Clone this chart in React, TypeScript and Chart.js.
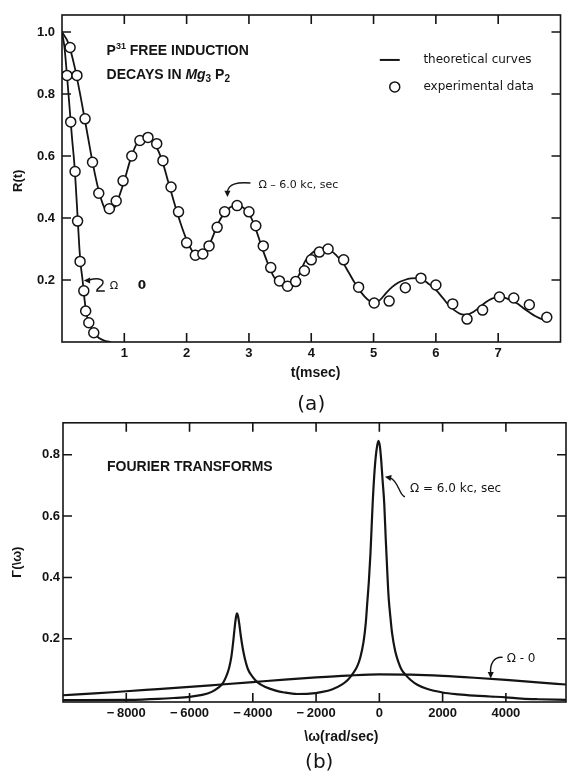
import React, { useEffect, useRef } from "react";
import { Chart, registerables } from "chart.js";
Chart.register(...registerables);

// ---------- data: (a) free induction decays ----------
const FID6_T = [0, 0.1, 0.2, 0.3, 0.4, 0.5, 0.6, 0.7, 0.78, 0.88, 1.0, 1.1, 1.2, 1.3, 1.4, 1.5, 1.6, 1.7, 1.8, 1.9, 2.0, 2.1, 2.2, 2.3, 2.4, 2.5, 2.6, 2.7, 2.8, 2.9, 3.0, 3.1, 3.2, 3.3, 3.4, 3.5, 3.6, 3.7, 3.8, 3.9, 4.0, 4.1, 4.2, 4.3, 4.4, 4.5, 4.6, 4.7, 4.8, 4.9, 5.0, 5.1, 5.2, 5.3, 5.4, 5.5, 5.6, 5.7, 5.8, 5.9, 6.0, 6.1, 6.2, 6.3, 6.4, 6.5, 6.6, 6.7, 6.8, 6.9, 7.0, 7.1, 7.2, 7.3, 7.4, 7.5, 7.6, 7.7, 7.8];
const FID6_R = [1.0, 0.965, 0.89, 0.79, 0.68, 0.57, 0.48, 0.425, 0.415, 0.45, 0.52, 0.59, 0.64, 0.66, 0.66, 0.635, 0.59, 0.52, 0.45, 0.385, 0.33, 0.29, 0.275, 0.29, 0.33, 0.38, 0.415, 0.435, 0.44, 0.435, 0.415, 0.37, 0.31, 0.255, 0.21, 0.185, 0.177, 0.188, 0.215, 0.26, 0.285, 0.297, 0.302, 0.297, 0.28, 0.258, 0.225, 0.19, 0.16, 0.138, 0.127, 0.135, 0.158, 0.178, 0.192, 0.2, 0.205, 0.206, 0.2, 0.185, 0.168, 0.145, 0.12, 0.102, 0.09, 0.088, 0.097, 0.112, 0.128, 0.14, 0.145, 0.143, 0.135, 0.125, 0.11, 0.096, 0.083, 0.074, 0.07];
const FID0_T = [0, 0.04, 0.08, 0.12, 0.16, 0.2, 0.24, 0.28, 0.3, 0.33, 0.36, 0.39, 0.43, 0.5, 0.6, 0.7, 0.78];
const FID0_R = [1.0, 0.95, 0.86, 0.76, 0.66, 0.57, 0.44, 0.3, 0.25, 0.2, 0.14, 0.095, 0.062, 0.032, 0.012, 0.003, 0.0];
const EXP6_T = [0.13, 0.24, 0.37, 0.49, 0.59, 0.76, 0.87, 0.98, 1.12, 1.25, 1.38, 1.52, 1.62, 1.75, 1.87, 2.0, 2.14, 2.26, 2.36, 2.49, 2.61, 2.81, 3.0, 3.11, 3.23, 3.35, 3.49, 3.62, 3.75, 3.89, 4.0, 4.13, 4.27, 4.52, 4.76, 5.01, 5.25, 5.51, 5.76, 6.0, 6.27, 6.5, 6.75, 7.02, 7.25, 7.5, 7.78];
const EXP6_R = [0.95, 0.86, 0.72, 0.58, 0.48, 0.43, 0.455, 0.52, 0.6, 0.65, 0.66, 0.64, 0.585, 0.5, 0.42, 0.32, 0.28, 0.284, 0.31, 0.37, 0.42, 0.44, 0.42, 0.375, 0.31, 0.24, 0.197, 0.18, 0.195, 0.23, 0.265, 0.29, 0.3, 0.265, 0.177, 0.126, 0.132, 0.175, 0.206, 0.184, 0.123, 0.074, 0.103, 0.145, 0.142, 0.12, 0.08];
const EXP0_T = [0.08, 0.14, 0.21, 0.25, 0.29, 0.35, 0.38, 0.43, 0.51];
const EXP0_R = [0.86, 0.71, 0.55, 0.39, 0.26, 0.165, 0.1, 0.062, 0.03];

// ---------- data: (b) Fourier transforms ----------
const FT6_W = [-10000, -8000, -7500, -7000, -6500, -6000, -5600, -5300, -5100, -4950, -4850, -4750, -4680, -4620, -4570, -4530, -4500, -4470, -4430, -4380, -4320, -4250, -4150, -4000, -3850, -3600, -3300, -3000, -2600, -2200, -1800, -1500, -1200, -1000, -850, -700, -600, -500, -430, -380, -330, -280, -212, -150, -90, -30, 20, 60, 100, 155, 200, 250, 290, 350, 400, 500, 600, 700, 850, 1000, 1200, 1500, 2000, 2500, 3000, 3500, 4000, 4500, 5000, 5900];
const FT6_G = [0.0, 0.001, 0.002, 0.004, 0.007, 0.011, 0.017, 0.027, 0.04, 0.055, 0.075, 0.105, 0.14, 0.19, 0.24, 0.272, 0.283, 0.275, 0.25, 0.21, 0.17, 0.135, 0.1, 0.075, 0.058, 0.043, 0.032, 0.025, 0.02, 0.021, 0.027, 0.035, 0.05, 0.066, 0.085, 0.11, 0.14, 0.19, 0.25, 0.32, 0.39, 0.48, 0.64, 0.75, 0.815, 0.845, 0.825, 0.78, 0.72, 0.64, 0.53, 0.42, 0.34, 0.27, 0.22, 0.16, 0.125, 0.1, 0.08, 0.065, 0.05, 0.037, 0.025, 0.019, 0.015, 0.012, 0.009, 0.005, 0.003, 0.001];
const FT0_W = [-10000, -9000, -8000, -7000, -6000, -5000, -4000, -3000, -2000, -1000, 0, 1000, 2000, 3000, 4000, 5000, 5900];
const FT0_G = [0.016, 0.022, 0.029, 0.036, 0.043, 0.051, 0.059, 0.067, 0.074, 0.08, 0.084, 0.083, 0.079, 0.073, 0.066, 0.058, 0.051];

// ---------- ticks ----------
const TOP_X_TICKS = [1, 2, 3, 4, 5, 6, 7];
const TOP_Y_TICKS = [0.2, 0.4, 0.6, 0.8, 1.0];
const BOT_X_TICKS = [-8000, -6000, -4000, -2000, 0, 2000, 4000];
const BOT_Y_TICKS = [0.2, 0.4, 0.6, 0.8];

const INK = "#141414";
const NUM = "'Liberation Sans', Arial, sans-serif";
const ANN = "'DejaVu Sans', sans-serif";

function pts(xs: number[], ys: number[]) {
  return xs.map((x, i) => ({ x, y: ys[i] }));
}

function frame(chart: any, xt: number[], yt: number[], len: number) {
  const { ctx, chartArea: a } = chart;
  const sx = chart.scales.x, sy = chart.scales.y;
  ctx.save();
  ctx.strokeStyle = INK;
  ctx.lineWidth = 1.6;
  ctx.strokeRect(a.left, a.top, a.right - a.left, a.bottom - a.top);
  ctx.beginPath();
  for (const v of xt) {
    const p = sx.getPixelForValue(v);
    ctx.moveTo(p, a.bottom); ctx.lineTo(p, a.bottom - len);
    ctx.moveTo(p, a.top); ctx.lineTo(p, a.top + len);
  }
  for (const v of yt) {
    const p = sy.getPixelForValue(v);
    ctx.moveTo(a.left, p); ctx.lineTo(a.left + len, p);
    ctx.moveTo(a.right, p); ctx.lineTo(a.right - len, p);
  }
  ctx.stroke();
  ctx.restore();
}

function arrowHead(ctx: any, x: number, y: number, ang: number, size: number) {
  ctx.beginPath();
  ctx.moveTo(x, y);
  ctx.lineTo(x - size * Math.cos(ang - 0.45), y - size * Math.sin(ang - 0.45));
  ctx.lineTo(x - size * Math.cos(ang + 0.45), y - size * Math.sin(ang + 0.45));
  ctx.closePath();
  ctx.fill();
}

type Run = { t: string; font: string; dy?: number };
function runs(ctx: any, x: number, y: number, list: Run[]) {
  let cx = x;
  ctx.textBaseline = "alphabetic";
  ctx.textAlign = "left";
  for (const r of list) {
    ctx.font = r.font;
    ctx.fillText(r.t, cx, y + (r.dy || 0));
    cx += ctx.measureText(r.t).width;
  }
}

function text(ctx: any, s: string, x: number, y: number, font: string, align = "left") {
  ctx.font = font;
  ctx.textAlign = align;
  ctx.textBaseline = "middle";
  ctx.fillText(s, x, y);
}

const topDecor = {
  id: "topDecor",
  afterDraw(chart: any) {
    const { ctx, chartArea: a } = chart;
    const sx = chart.scales.x, sy = chart.scales.y;
    const P = (u: number, v: number) => ({ x: sx.getPixelForValue(u), y: sy.getPixelForValue(v) });
    frame(chart, TOP_X_TICKS, TOP_Y_TICKS, 9);
    ctx.save();
    ctx.fillStyle = INK;
    ctx.strokeStyle = INK;

    // title
    const t1 = P(0.715, 0.942);
    const big = `bold 14px ${NUM}`;
    runs(ctx, t1.x, t1.y + 5, [
      { t: "P", font: big },
      { t: "31", font: `bold 9px ${NUM}`, dy: -6 },
      { t: " FREE INDUCTION", font: big },
    ]);
    const t2 = P(0.715, 0.865);
    runs(ctx, t2.x, t2.y + 5, [
      { t: "DECAYS IN ", font: big },
      { t: "Mg", font: `italic bold 14px ${NUM}` },
      { t: "3", font: `bold 10px ${NUM}`, dy: 3 },
      { t: " P", font: big },
      { t: "2", font: `bold 10px ${NUM}`, dy: 3 },
    ]);

    // legend
    const l1 = P(5.1, 0.91), l1e = P(5.42, 0.91);
    ctx.lineWidth = 2;
    ctx.beginPath(); ctx.moveTo(l1.x, l1.y); ctx.lineTo(l1e.x, l1e.y); ctx.stroke();
    const lt = P(5.8, 0.91);
    text(ctx, "theoretical curves", lt.x, lt.y, `12px ${ANN}`);
    const c2 = P(5.34, 0.823);
    ctx.lineWidth = 1.5;
    ctx.beginPath(); ctx.arc(c2.x, c2.y, 5, 0, Math.PI * 2);
    ctx.fillStyle = "#fff"; ctx.fill(); ctx.fillStyle = INK; ctx.stroke();
    const lt2 = P(5.8, 0.823);
    text(ctx, "experimental data", lt2.x, lt2.y, `12px ${ANN}`);

    // annotation: Omega = 6
    const tip6 = P(2.655, 0.468);
    const s6 = { x: tip6.x + 23, y: tip6.y - 14 };
    ctx.lineWidth = 1.4;
    ctx.beginPath();
    ctx.moveTo(s6.x, s6.y);
    ctx.bezierCurveTo(s6.x - 14, s6.y - 1, tip6.x + 1, s6.y + 1, tip6.x, tip6.y - 5);
    ctx.stroke();
    arrowHead(ctx, tip6.x, tip6.y, Math.PI / 2, 7);
    text(ctx, "Ω – 6.0 kc, sec", tip6.x + 31, tip6.y - 12, `11px ${ANN}`);

    // annotation: Omega = 0
    const tip0 = P(0.35, 0.2);
    ctx.beginPath();
    ctx.moveTo(tip0.x + 21, tip0.y + 11);
    ctx.lineTo(tip0.x + 13, tip0.y + 11);
    ctx.bezierCurveTo(tip0.x + 13, tip0.y + 7, tip0.x + 21, tip0.y + 6, tip0.x + 19, tip0.y + 1);
    ctx.quadraticCurveTo(tip0.x + 16, tip0.y - 3, tip0.x + 5, tip0.y);
    ctx.stroke();
    arrowHead(ctx, tip0.x, tip0.y + 0.5, Math.PI, 7);
    text(ctx, "Ω", tip0.x + 26, tip0.y + 6, `11px ${ANN}`);
    text(ctx, "0", tip0.x + 54, tip0.y + 6, `bold 12px ${ANN}`);

    // axis titles
    text(ctx, "t(msec)", sx.getPixelForValue(4.07), a.bottom + 31, `bold 14px ${NUM}`, "center");
    ctx.save();
    ctx.translate(18, sy.getPixelForValue(0.52));
    ctx.rotate(-Math.PI / 2);
    text(ctx, "R(t)", 0, 0, `bold 13px ${NUM}`, "center");
    ctx.restore();
    text(ctx, "(a)", sx.getPixelForValue(4.0), a.bottom + 63, `20px ${ANN}`, "center");
    ctx.restore();
  },
};

const botDecor = {
  id: "botDecor",
  afterDraw(chart: any) {
    const { ctx, chartArea: a } = chart;
    const sx = chart.scales.x, sy = chart.scales.y;
    const P = (u: number, v: number) => ({ x: sx.getPixelForValue(u), y: sy.getPixelForValue(v) });
    frame(chart, BOT_X_TICKS, BOT_Y_TICKS, 9);
    ctx.save();
    ctx.fillStyle = INK;
    ctx.strokeStyle = INK;

    const tt = P(-8609, 0.76);
    text(ctx, "FOURIER TRANSFORMS", tt.x, tt.y, `bold 14px ${NUM}`);

    // Omega = 6 arrow
    const tip = P(177, 0.728);
    ctx.lineWidth = 1.4;
    ctx.beginPath();
    ctx.moveTo(tip.x + 20, tip.y + 20);
    ctx.bezierCurveTo(tip.x + 14, tip.y + 19, tip.x + 14, tip.y + 4, tip.x + 5, tip.y + 1);
    ctx.stroke();
    arrowHead(ctx, tip.x, tip.y, Math.PI + 0.2, 7);
    text(ctx, "Ω = 6.0 kc, sec", tip.x + 25, tip.y + 12, `12px ${ANN}`);

    // Omega = 0 arrow
    const tip0 = P(3520, 0.071);
    ctx.beginPath();
    ctx.moveTo(tip0.x + 12, tip0.y - 21);
    ctx.bezierCurveTo(tip0.x + 3, tip0.y - 22, tip0.x - 1, tip0.y - 14, tip0.x, tip0.y - 5);
    ctx.stroke();
    arrowHead(ctx, tip0.x, tip0.y, Math.PI / 2, 7);
    text(ctx, "Ω - 0", tip0.x + 16, tip0.y - 20, `12px ${ANN}`);

    text(ctx, "\\ω(rad/sec)", sx.getPixelForValue(-1200), a.bottom + 35, `bold 14px ${NUM}`, "center");
    ctx.save();
    ctx.translate(17, sy.getPixelForValue(0.45));
    ctx.rotate(-Math.PI / 2);
    text(ctx, "Γ(\\ω)", 0, 0, `bold 13px ${NUM}`, "center");
    ctx.restore();
    text(ctx, "(b)", sx.getPixelForValue(-1900), a.bottom + 61, `20px ${ANN}`, "center");
    ctx.restore();
  },
};

const lineDS = (data: any[], width: number) => ({
  data,
  showLine: true,
  borderColor: INK,
  borderWidth: width,
  pointRadius: 0,
  cubicInterpolationMode: "monotone" as const,
  fill: false,
});
const dotDS = (data: any[]) => ({
  data,
  showLine: false,
  pointRadius: 5,
  pointBackgroundColor: "#ffffff",
  pointBorderColor: INK,
  pointBorderWidth: 1.5,
});

function TopChart() {
  const ref = useRef<HTMLCanvasElement>(null);
  useEffect(() => {
    const c = new Chart(ref.current!, {
      type: "scatter",
      data: {
        datasets: [
          dotDS(pts(EXP6_T, EXP6_R)),
          dotDS(pts(EXP0_T, EXP0_R)),
          lineDS(pts(FID6_T, FID6_R), 1.8),
          lineDS(pts(FID0_T, FID0_R), 1.8),
        ] as any,
      },
      options: {
        animation: false,
        responsive: false,
        events: [],
        layout: { padding: { top: 15, right: 2, left: 0, bottom: 0 } },
        plugins: { legend: { display: false }, tooltip: { enabled: false } },
        scales: {
          x: {
            type: "linear",
            min: 0,
            max: 8,
            grid: { display: false, drawTicks: false },
            border: { display: false },
            afterBuildTicks: (s: any) => { s.ticks = TOP_X_TICKS.map((v) => ({ value: v })); },
            afterFit: (s: any) => { s.height = 76; },
            ticks: { padding: 4, color: INK, font: { family: NUM, size: 13, weight: "bold" }, callback: (v: any) => String(v), maxRotation: 0 },
          },
          y: {
            type: "linear",
            min: 0,
            max: 1.055,
            grid: { display: false, drawTicks: false },
            border: { display: false },
            afterBuildTicks: (s: any) => { s.ticks = TOP_Y_TICKS.map((v) => ({ value: v })); },
            afterFit: (s: any) => { s.width = 62; },
            ticks: { padding: 7, color: INK, font: { family: NUM, size: 13, weight: "bold" }, callback: (v: any) => Number(v).toFixed(1) },
          },
        },
      } as any,
      plugins: [topDecor],
    });
    return () => c.destroy();
  }, []);
  return <canvas ref={ref} width={567} height={418} style={{ position: "absolute", left: 0, top: 0, width: 567, height: 418 }} />;
}

function BottomChart() {
  const ref = useRef<HTMLCanvasElement>(null);
  useEffect(() => {
    const c = new Chart(ref.current!, {
      type: "scatter",
      data: {
        datasets: [
          lineDS(pts(FT6_W, FT6_G), 2.2),
          lineDS(pts(FT0_W, FT0_G), 2.2),
        ] as any,
      },
      options: {
        animation: false,
        responsive: false,
        events: [],
        layout: { padding: { top: 6, right: 1, left: 0, bottom: 0 } },
        plugins: { legend: { display: false }, tooltip: { enabled: false } },
        scales: {
          x: {
            type: "linear",
            min: -10000,
            max: 5900,
            grid: { display: false, drawTicks: false },
            border: { display: false },
            afterBuildTicks: (s: any) => { s.ticks = BOT_X_TICKS.map((v) => ({ value: v })); },
            afterFit: (s: any) => { s.height = 72; },
            ticks: {
              padding: 4, color: INK, font: { family: NUM, size: 13, weight: "bold" }, maxRotation: 0,
              callback: (v: any) => (Number(v) < 0 ? "−\u2009" + Math.abs(Number(v)) : String(v)),
            },
          },
          y: {
            type: "linear",
            min: -0.006,
            max: 0.904,
            grid: { display: false, drawTicks: false },
            border: { display: false },
            afterBuildTicks: (s: any) => { s.ticks = BOT_Y_TICKS.map((v) => ({ value: v })); },
            afterFit: (s: any) => { s.width = 63; },
            ticks: { padding: 3, color: INK, font: { family: NUM, size: 13, weight: "bold" }, callback: (v: any) => Number(v).toFixed(1) },
          },
        },
      } as any,
      plugins: [botDecor],
    });
    return () => c.destroy();
  }, []);
  return <canvas ref={ref} width={567} height={362} style={{ position: "absolute", left: 0, top: 412, width: 567, height: 362 }} />;
}

export default function App() {
  return (
    <div style={{ position: "absolute", left: 0, top: 0, width: 567, height: 774, background: "#fff", overflow: "hidden" }}>
      <TopChart />
      <BottomChart />
    </div>
  );
}
